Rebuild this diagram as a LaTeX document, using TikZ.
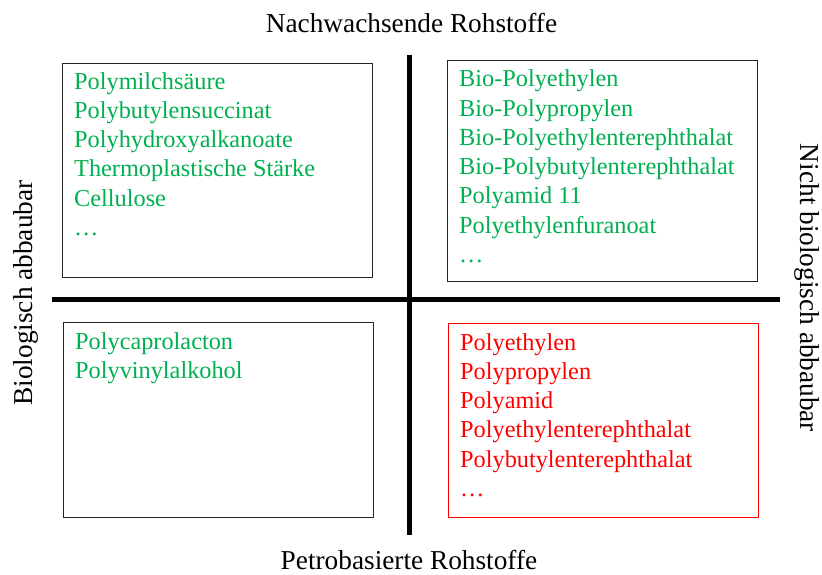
\documentclass[tikz,border=0pt]{standalone}
\usepackage{fontspec}
\setmainfont{Liberation Serif}
\definecolor{bgreen}{RGB}{0,176,80}
\definecolor{bred}{RGB}{255,0,0}
\begin{document}
\begin{tikzpicture}[x=1pt,y=-1pt,
  box/.style={draw=black!85, line width=1.2pt, anchor=north west, inner sep=0pt},
  axis/.style={line width=4.5pt, black},
  item/.style={anchor=base west, inner sep=0pt, font=\fontsize{24.3}{28}\selectfont},
  title/.style={inner sep=0pt, font=\fontsize{27.3}{32}\selectfont, black}]
\useasboundingbox (0,0) rectangle (822,574);
% boxes
\node[box, minimum width=310, minimum height=214] (tl) at (62,63) {};
\node[box, minimum width=310, minimum height=221] (tr) at (447,60) {};
\node[box, minimum width=310, minimum height=195] (bl) at (63,322) {};
\node[box, draw=bred, minimum width=310, minimum height=194] (br) at (448,323) {};
% axes
\coordinate (hl) at (52,299.5);
\coordinate (hr) at (780,299.5);
\coordinate (vt) at (409.5,55);
\coordinate (vb) at (409.5,535);
\draw[axis] (hl) -- (hr);
\draw[axis] (vt) -- (vb);
% titles
\node[title, anchor=base] (top) at (411.5,32) {Nachwachsende Rohstoffe};
\node[title, anchor=base] (bot) at (409,569) {Petrobasierte Rohstoffe};
\node[title, anchor=base, rotate=90] (left) at (32,293) {Biologisch abbaubar};
\node[title, anchor=base, rotate=-90] (right) at (800,288) {Nicht biologisch abbaubar};
% items
\foreach \t [count=\i from 0] in {Polymilchsäure,Polybutylensuccinat,Polyhydroxyalkanoate,Thermoplastische Stärke,Cellulose,\dots}
  \node[item, text=bgreen] (tl\i) at (74,{89+29.3*\i}) {\t};
\foreach \t [count=\i from 0] in {Bio-Polyethylen,Bio-Polypropylen,Bio-Polyethylenterephthalat,Bio-Polybutylenterephthalat,Polyamid 11,Polyethylenfuranoat,\dots}
  \node[item, text=bgreen] (tr\i) at (459,{86.7+29.3*\i}) {\t};
\foreach \t [count=\i from 0] in {Polycaprolacton,Polyvinylalkohol}
  \node[item, text=bgreen] (bl\i) at (75,{349+29.3*\i}) {\t};
\foreach \t [count=\i from 0] in {Polyethylen,Polypropylen,Polyamid,Polyethylenterephthalat,Polybutylenterephthalat,\dots}
  \node[item, text=bred] (br\i) at (460,{350+29.3*\i}) {\t};
\end{tikzpicture}
\end{document}
